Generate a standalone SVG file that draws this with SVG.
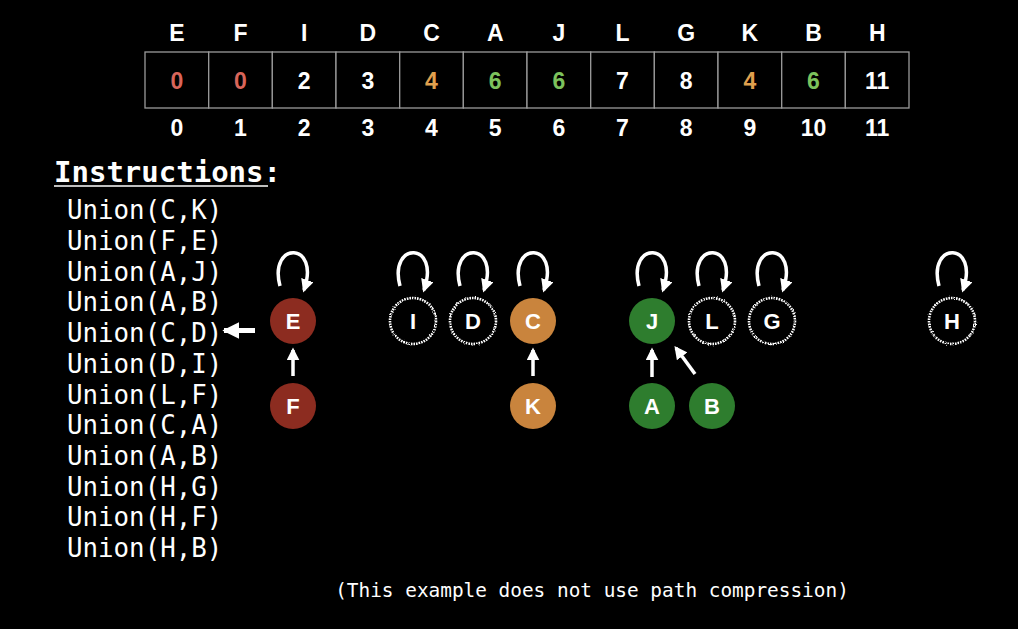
<svg xmlns="http://www.w3.org/2000/svg" width="1018" height="629" viewBox="0 0 1018 629">
<defs>
<marker id="ah" viewBox="0 0 10 10" refX="8" refY="5" markerWidth="13" markerHeight="13" orient="auto" markerUnits="userSpaceOnUse"><path d="M0,0 L10,5 L0,10 z" fill="#fff"/></marker>
<marker id="ahb" viewBox="0 0 10 10" refX="9" refY="5" markerWidth="17" markerHeight="17" orient="auto" markerUnits="userSpaceOnUse"><path d="M0,0 L10,5 L0,10 z" fill="#fff"/></marker>
<filter id="fz" x="-20%" y="-20%" width="140%" height="140%"><feTurbulence type="fractalNoise" baseFrequency="0.9" numOctaves="1" seed="3"/><feDisplacementMap in="SourceGraphic" scale="2.5" xChannelSelector="R" yChannelSelector="G"/></filter>
</defs>
<style>
.hdr{font-family:"Liberation Sans",Arial,sans-serif;font-weight:bold;font-size:23px;fill:#fff;text-anchor:middle}
.val{font-family:"Liberation Sans",Arial,sans-serif;font-weight:bold;font-size:23px;text-anchor:middle}
.cell{fill:#000;stroke:#9a9a9a;stroke-width:1.3}
.mono{font-family:"DejaVu Sans Mono",monospace;fill:#fff}
.ins{font-size:25.8px}
.nl{font-family:"Liberation Sans",Arial,sans-serif;font-weight:bold;font-size:22px;fill:#fff;text-anchor:middle}
.red{fill:#8c2c20}
.org{fill:#c9843d}
.grn{fill:#2e7d2e}
.dash{fill:none;stroke:#fff;stroke-width:2.6;stroke-dasharray:1.6 1;filter:url(#fz)}
.edge{fill:none;stroke:#fff;stroke-width:3.5;marker-end:url(#ah)}
.big{fill:none;stroke:#fff;stroke-width:5;marker-end:url(#ahb)}
</style>
<rect width="1018" height="629" fill="#000"/>
<g id="table">
<rect class="cell" x="145" y="52" width="63.7" height="56"/>
<rect class="cell" x="208.7" y="52" width="63.7" height="56"/>
<rect class="cell" x="272.3" y="52" width="63.7" height="56"/>
<rect class="cell" x="336" y="52" width="63.7" height="56"/>
<rect class="cell" x="399.7" y="52" width="63.7" height="56"/>
<rect class="cell" x="463.3" y="52" width="63.7" height="56"/>
<rect class="cell" x="527" y="52" width="63.7" height="56"/>
<rect class="cell" x="590.7" y="52" width="63.7" height="56"/>
<rect class="cell" x="654.3" y="52" width="63.7" height="56"/>
<rect class="cell" x="718" y="52" width="63.7" height="56"/>
<rect class="cell" x="781.7" y="52" width="63.7" height="56"/>
<rect class="cell" x="845.3" y="52" width="63.7" height="56"/>
<g class="hdr">
<text x="176.8" y="41">E</text><text x="240.5" y="41">F</text><text x="304.2" y="41">I</text><text x="367.8" y="41">D</text><text x="431.5" y="41">C</text><text x="495.2" y="41">A</text><text x="558.8" y="41">J</text><text x="622.5" y="41">L</text><text x="686.2" y="41">G</text><text x="749.8" y="41">K</text><text x="813.5" y="41">B</text><text x="877.2" y="41">H</text>
</g>
<g class="val">
<text x="176.8" y="89" fill="#d9655a">0</text><text x="240.5" y="89" fill="#d9655a">0</text><text x="304.2" y="89" fill="#fff">2</text><text x="367.8" y="89" fill="#fff">3</text><text x="431.5" y="89" fill="#e0a04e">4</text><text x="495.2" y="89" fill="#7cc25c">6</text><text x="558.8" y="89" fill="#7cc25c">6</text><text x="622.5" y="89" fill="#fff">7</text><text x="686.2" y="89" fill="#fff">8</text><text x="749.8" y="89" fill="#e0a04e">4</text><text x="813.5" y="89" fill="#7cc25c">6</text><text x="877.2" y="89" fill="#fff">11</text>
</g>
<g class="hdr">
<text x="176.8" y="136">0</text><text x="240.5" y="136">1</text><text x="304.2" y="136">2</text><text x="367.8" y="136">3</text><text x="431.5" y="136">4</text><text x="495.2" y="136">5</text><text x="558.8" y="136">6</text><text x="622.5" y="136">7</text><text x="686.2" y="136">8</text><text x="749.8" y="136">9</text><text x="813.5" y="136">10</text><text x="877.2" y="136">11</text>
</g>
</g>
<g id="instructions">
<text class="mono" x="54" y="182" font-size="29" font-weight="bold" fill="#eee">Instructions:</text>
<line x1="54" y1="186" x2="268" y2="186" stroke="#fff" stroke-width="1.5"/>
<g class="mono ins">
<text x="67" y="219">Union(C,K)</text>
<text x="67" y="250">Union(F,E)</text>
<text x="67" y="281">Union(A,J)</text>
<text x="67" y="311">Union(A,B)</text>
<text x="67" y="342">Union(C,D)</text>
<text x="67" y="373">Union(D,I)</text>
<text x="67" y="404">Union(L,F)</text>
<text x="67" y="434">Union(C,A)</text>
<text x="67" y="465">Union(A,B)</text>
<text x="67" y="496">Union(H,G)</text>
<text x="67" y="526">Union(H,F)</text>
<text x="67" y="557">Union(H,B)</text>
</g>
<text class="mono" x="592" y="597" font-size="19.4" fill="#ddd" text-anchor="middle">(This example does not use path compression)</text>
</g>
<g id="connectors">
<path class="big" d="M255,330.5 L224,330.5"/>
<path class="edge" d="M293,376 L293,350"/>
<path class="edge" d="M533,376 L533,350"/>
<path class="edge" d="M652,377 L652,350"/>
<path class="edge" d="M695,374 L676,348"/>
<path class="edge" d="M280,286 C268,241 321,241 304,290"/>
<path class="edge" d="M400,286 C388,241 441,241 424,290"/>
<path class="edge" d="M460,286 C448,241 501,241 484,290"/>
<path class="edge" d="M520,286 C508,241 561,241 544,290"/>
<path class="edge" d="M639,286 C627,241 680,241 663,290"/>
<path class="edge" d="M699,286 C687,241 740,241 723,290"/>
<path class="edge" d="M759,286 C747,241 800,241 783,290"/>
<path class="edge" d="M939,286 C927,241 980,241 963,290"/>
</g>
<g id="node-E"><circle class="red" cx="293" cy="321" r="23"/><text class="nl" x="293" y="329">E</text></g>
<g id="node-F"><circle class="red" cx="293" cy="406" r="23"/><text class="nl" x="293" y="414">F</text></g>
<g id="node-I"><circle class="dash" cx="413" cy="321" r="23"/><text class="nl" x="413" y="329">I</text></g>
<g id="node-D"><circle class="dash" cx="473" cy="321" r="23"/><text class="nl" x="473" y="329">D</text></g>
<g id="node-C"><circle class="org" cx="533" cy="321" r="23"/><text class="nl" x="533" y="329">C</text></g>
<g id="node-K"><circle class="org" cx="533" cy="406" r="23"/><text class="nl" x="533" y="414">K</text></g>
<g id="node-J"><circle class="grn" cx="652" cy="321" r="23"/><text class="nl" x="652" y="329">J</text></g>
<g id="node-A"><circle class="grn" cx="652" cy="406" r="23"/><text class="nl" x="652" y="414">A</text></g>
<g id="node-B"><circle class="grn" cx="712" cy="406" r="23"/><text class="nl" x="712" y="414">B</text></g>
<g id="node-L"><circle class="dash" cx="712" cy="321" r="23"/><text class="nl" x="712" y="329">L</text></g>
<g id="node-G"><circle class="dash" cx="772" cy="321" r="23"/><text class="nl" x="772" y="329">G</text></g>
<g id="node-H"><circle class="dash" cx="952" cy="321" r="23"/><text class="nl" x="952" y="329">H</text></g>
</svg>
